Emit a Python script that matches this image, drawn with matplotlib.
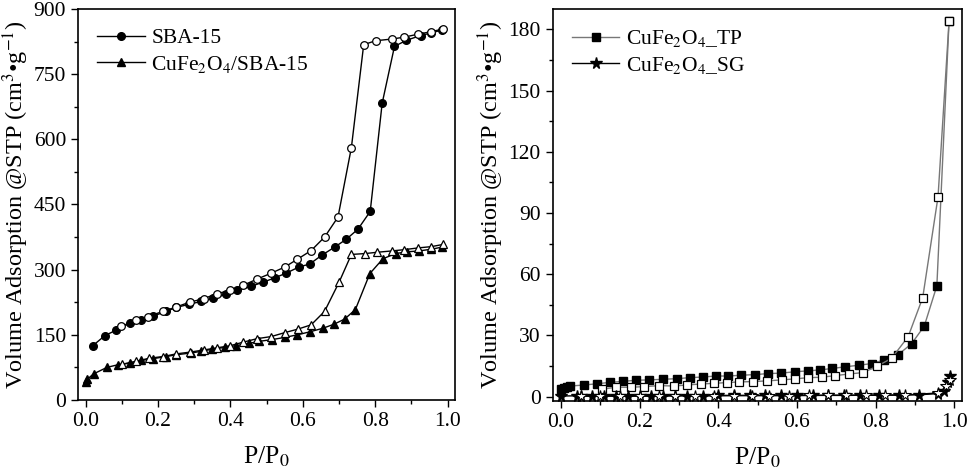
import matplotlib
matplotlib.use('Agg')
import matplotlib.pyplot as plt
from matplotlib.ticker import MultipleLocator

plt.rcParams['font.family'] = ['Liberation Serif', 'DejaVu Serif']
plt.rcParams['mathtext.fontset'] = 'stix'

# --- SBA-15 (left panel) ---
sba_ads_x = [0.02, 0.053, 0.085, 0.123, 0.154, 0.186, 0.223, 0.25, 0.285, 0.32, 0.352,
             0.387, 0.418, 0.458, 0.49, 0.522, 0.554, 0.589, 0.619, 0.652, 0.688, 0.72,
             0.752, 0.786, 0.819, 0.853, 0.886, 0.925, 0.955, 0.985]
sba_ads_y = [125, 148, 161, 177, 185, 193, 204, 213, 220, 227, 234,
             243, 252, 262, 271, 281, 292, 306, 313, 333, 352, 370,
             393, 434, 683, 814, 828, 839, 845, 852]
sba_des_x = [0.987, 0.955, 0.918, 0.878, 0.847, 0.801, 0.768, 0.734, 0.697, 0.66, 0.623,
             0.585, 0.55, 0.513, 0.473, 0.435, 0.4, 0.363, 0.326, 0.287, 0.25, 0.214,
             0.172, 0.14, 0.099]
sba_des_y = [854, 848, 842, 835, 831, 827, 818, 581, 421, 375, 344,
             324, 306, 292, 278, 264, 252, 245, 233, 225, 214, 204,
             192, 183, 170]

cf_sba_ads_x = [0.0, 0.005, 0.022, 0.059, 0.089, 0.123, 0.154, 0.186, 0.223, 0.25, 0.29,
                0.32, 0.35, 0.385, 0.415, 0.45, 0.48, 0.515, 0.55, 0.585, 0.62, 0.655,
                0.685, 0.715, 0.745, 0.785, 0.821, 0.856, 0.887, 0.92, 0.955, 0.985]
cf_sba_ads_y = [41, 48, 60, 75, 81, 85, 91, 95, 100, 104, 108,
                112, 117, 121, 125, 130, 135, 139, 144, 150, 157, 165,
                174, 186, 208, 291, 325, 337, 341, 343, 347, 352]
cf_sba_des_x = [0.987, 0.955, 0.918, 0.88, 0.845, 0.805, 0.772, 0.734, 0.7, 0.66, 0.623,
                0.586, 0.55, 0.513, 0.473, 0.435, 0.4, 0.363, 0.326, 0.287, 0.25, 0.214,
                0.175, 0.14, 0.1]
cf_sba_des_y = [358, 353, 350, 346, 343, 340, 337, 335, 271, 204, 173,
                163, 155, 146, 141, 133, 125, 120, 115, 110, 106, 100,
                96, 89, 82]

# --- CuFe2O4 (right panel) ---
tp_ads_x = [0.001, 0.008, 0.016, 0.024, 0.059, 0.091, 0.125, 0.158, 0.19, 0.224, 0.26,
            0.294, 0.328, 0.36, 0.394, 0.425, 0.459, 0.494, 0.527, 0.559, 0.595, 0.627,
            0.659, 0.69, 0.722, 0.758, 0.79, 0.822, 0.856, 0.892, 0.924, 0.956, 0.987]
tp_ads_y = [3.6, 4.3, 4.8, 5.2, 5.7, 6.3, 7.0, 7.5, 8.0, 8.2, 8.5,
            8.8, 9.3, 9.6, 10.1, 10.1, 10.5, 10.8, 11.3, 11.5, 12.2, 12.6,
            13.1, 13.8, 14.6, 15.4, 16.2, 18.0, 20.3, 26.0, 34.6, 54.3, 184]
tp_des_x = [0.987, 0.959, 0.92, 0.883, 0.841, 0.805, 0.769, 0.733, 0.697, 0.663, 0.629,
            0.595, 0.561, 0.523, 0.489, 0.454, 0.423, 0.389, 0.355, 0.32, 0.287, 0.25,
            0.212, 0.177, 0.14, 0.104]
tp_des_y = [184, 98, 48.5, 29.4, 18.8, 15.0, 11.8, 11.1, 10.3, 9.5, 9.3,
            8.7, 8.2, 7.7, 7.4, 7.2, 6.9, 6.5, 6.2, 5.7, 5.2, 5.4,
            4.9, 4.6, 4.6, 3.6]

sg_ads_x = [0.0, 0.04, 0.05, 0.08, 0.11, 0.14, 0.17, 0.2, 0.23, 0.26, 0.29,
            0.32, 0.36, 0.4, 0.44, 0.48, 0.52, 0.56, 0.6, 0.64, 0.68, 0.72,
            0.76, 0.81, 0.86, 0.91, 0.96, 0.975, 0.985, 0.99]
sg_ads_y = [0.3, 0.4, 0.4, 0.4, 0.4, 0.4, 0.4, 0.5, 0.5, 0.5, 0.5,
            0.5, 0.5, 0.6, 0.6, 0.6, 0.6, 0.6, 0.6, 0.6, 0.7, 0.7,
            0.7, 0.7, 0.8, 0.9, 1.5, 3.0, 7.0, 10.0]
sg_des_x = [0.99, 0.98, 0.96, 0.875, 0.825, 0.775, 0.725, 0.68, 0.63, 0.58, 0.53,
            0.485, 0.44, 0.39, 0.34, 0.29, 0.25, 0.2, 0.15, 0.1, 0.05]
sg_des_y = [8.0, 5.0, 1.8, 0.8, 0.7, 0.7, 0.6, 0.6, 0.6, 0.5, 0.5,
            0.5, 0.5, 0.4, 0.4, 0.4, 0.2, 0.2, 0.2, 0.2, 0.2]

fig = plt.figure(figsize=(9.69, 4.75), dpi=100)
ax1 = fig.add_axes([0.0805, 0.158, 0.389, 0.823])
ax2 = fig.add_axes([0.5704, 0.1564, 0.4224, 0.8246])

ms = 5.5
# left panel
ax1.plot(sba_ads_x, sba_ads_y, '-o', color='black', lw=1, ms=ms, mfc='black', label='SBA-15')
ax1.plot(sba_des_x, sba_des_y, '-o', color='black', lw=1, ms=ms, mfc='white', mew=0.9)
ax1.plot(cf_sba_ads_x, cf_sba_ads_y, '-^', color='black', lw=1, ms=ms + 0.5, mfc='black',
         label=r'CuFe$_2$O$_4$/SBA-15')
ax1.plot(cf_sba_des_x, cf_sba_des_y, '-^', color='black', lw=1, ms=ms + 0.5, mfc='white', mew=0.9)

# right panel
ax2.plot(tp_ads_x, tp_ads_y, '-s', color='#777777', lw=1, ms=ms, mfc='black', mec='black',
         label=r'CuFe$_2$O$_4$_TP')
ax2.plot(tp_des_x, tp_des_y, '-s', color='#777777', lw=1, ms=ms, mfc='white', mec='black', mew=0.9)
ax2.plot(sg_ads_x, sg_ads_y, '-*', color='black', lw=1, ms=ms + 3, mfc='black',
         label=r'CuFe$_2$O$_4$_SG')
ax2.plot(sg_des_x, sg_des_y, '-*', color='black', lw=1, ms=ms + 3, mfc='white', mew=0.8)

ylabel = 'Volume Adsorption @STP (cm$^3$\u2022g$^{-1}$)'
for ax in (ax1, ax2):
    ax.set_xlim(-0.021, 1.02)
    ax.xaxis.set_major_locator(MultipleLocator(0.2))
    ax.xaxis.set_minor_locator(MultipleLocator(0.1))
    ax.tick_params(which='both', direction='out', top=False, right=False, width=1, labelsize=15.5)
    ax.tick_params(which='major', length=5)
    ax.tick_params(which='minor', length=3)
    for s in ax.spines.values():
        s.set_linewidth(1.2)
    ax.set_xlabel('P/P$_0$', fontsize=18.5, labelpad=10)
    ax.set_ylabel(ylabel, fontsize=17.5, labelpad=2)
    ax.legend(loc='upper left', frameon=False, fontsize=15.5, handlelength=2.2,
              handletextpad=0.3, borderaxespad=0.5, labelspacing=0.25)
    ax.xaxis.set_major_formatter(matplotlib.ticker.FormatStrFormatter('%.1f'))

ax1.set_ylim(0, 900)
ax1.yaxis.set_major_locator(MultipleLocator(150))
ax1.yaxis.set_minor_locator(MultipleLocator(75))

ax2.set_ylim(-2, 190)
ax2.yaxis.set_major_locator(MultipleLocator(30))
ax2.yaxis.set_minor_locator(MultipleLocator(15))

fig.savefig('out.png', dpi=100)
